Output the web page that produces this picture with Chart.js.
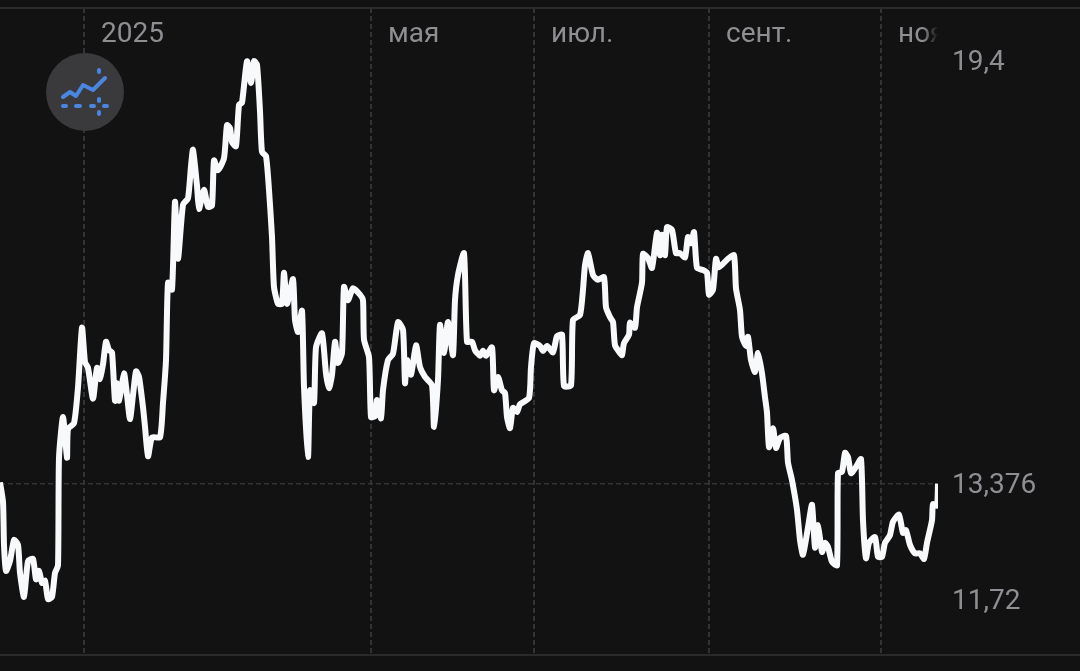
<!DOCTYPE html>
<html>
<head>
<meta charset="utf-8">
<title>Chart</title>
<script src="https://cdn.jsdelivr.net/npm/chart.js@4"></script>
<style>
  html, body { margin: 0; padding: 0; background: #121212; overflow: hidden; }
  canvas { position: absolute; left: 0; top: 0; }
  .rule { position: absolute; left: 0; width: 1080px; height: 2px; background: #2b2b2d; }
  #badge { position: absolute; left: 45px; top: 52px; }
</style>
</head>
<body>
<canvas id="chart" width="1080" height="671"></canvas>
<div class="rule" style="top:7px"></div>
<div class="rule" style="top:654px"></div>
<svg id="badge" width="80" height="80" viewBox="45 52 80 80">
  <circle cx="85" cy="92" r="39" fill="#3a3a3c"/>
  <g fill="none" stroke="#4a86e0" stroke-width="4" stroke-linecap="round" stroke-linejoin="round">
    <polyline points="63,97 70,92 76,96 83,85 93,90 105,78"/>
    <path d="M63 106h3M76 106h4M91 106h3M104 106h3M99 70v2M99 99v2M99 112v2"/>
  </g>
</svg>

<script>
// x is trading time counted from the start of 2025, y is the price
const sessions = [
  -42,-40.5,-40,-39,-37,-35,-33,-32,-30,-28,-25.5,-24,-22.5,-21,-19.5,-18,-16,-14.5,-13,-12.5,
  -10.5,-8.5,-8,-5,-3,-1,0.5,2,4.5,6.5,8,9.5,11,12.5,14,15.5,16.5,17.5,20,21.5,
  23,24.5,26,27.5,29.5,30.5,32,34,38,39.5,41,42,44,45.5,47,49.5,52,53.5,54.5,56.5,
  57.5,60,62,64,65,67,70,71.5,73,74,76,77.5,79,81.5,83.5,85,86.5,88,89,91,
  92.5,94,95,97,99,100,101.5,104.5,105.5,107,109,110,112,113,115,116,119,121,122.5,124,
  125.5,127,129,130,132,134.5,138,139.5,140,142.5,143.5,145.5,146.5,148.5,149.5,152,154.5,157,159.5,160.5,
  161.5,163.5,166,168,170.5,174,175,177,178,180,182,184.5,185.5,187,190,191.5,194,195.5,198,199.5,
  201,204,205,207,209,210.5,211.5,213,214.5,216.5,218,222.5,223.5,225,228,229.5,231.5,234.5,236.5,239,
  240,243.5,244.5,248,249.5,250.5,252,254.5,257,260,261,263,264.5,265.5,268,269,270,272.5,273,275.5,
  276.5,279,279.5,282,284,286.5,288,289,290.5,291.5,294,296,298,300.5,302,303.5,305,306.5,309.5,311.5,
  312.5,314.5,316,317.5,322,325,326,328,329,331,332,333.5,335.5,337,339,340.5,341.5,342.5,344.5,346,
  348,351,352,354,356.5,358,359.5,362,364,365.5,367,369,370.5,372,374,376.5,377,379,380.5,382,
  383.5,386,388.5,389.5,391,392.5,395.5,397,399,400.5,403,404.5,407.5,409.5,411,413,415.5,418,420,421.5,
  424,424.5,426.5,427
]
const prices = [
  13.40,13.12,12.51,12.14,12.28,12.58,12.51,12.11,11.77,12.28,12.31,12.02,12.14,11.97,12.00,11.74,11.77,12.11,12.22,13.75,
  14.33,13.75,14.16,14.24,14.75,15.60,15.11,15.03,14.59,15.03,14.87,15.08,15.40,15.28,15.25,14.56,14.81,14.56,14.95,14.64,
  14.30,14.64,14.98,14.90,14.47,14.19,13.77,14.04,14.04,14.53,15.14,16.24,16.14,17.39,16.58,17.35,17.44,17.90,18.13,17.62,
  17.29,17.56,17.32,17.34,17.98,17.84,18.01,18.48,18.44,18.24,18.18,18.77,18.80,19.39,19.08,19.39,19.34,18.68,18.10,18.04,
  17.56,16.89,16.18,15.94,15.94,16.38,15.94,16.29,15.71,15.54,15.84,14.76,13.76,14.71,14.53,15.32,15.52,14.95,14.74,14.93,
  15.40,15.10,15.24,16.18,15.99,16.16,16.07,15.99,15.43,15.18,14.33,14.34,14.57,14.31,14.71,15.14,15.23,15.68,15.57,14.81,
  15.14,14.93,15.35,15.04,14.90,14.78,14.19,14.86,15.64,15.24,15.68,15.21,15.99,16.35,16.66,15.40,15.40,15.28,15.20,15.27,
  15.20,15.32,14.71,14.90,14.71,14.67,14.33,14.17,14.46,14.40,14.51,14.60,15.04,15.38,15.34,15.27,15.34,15.25,15.48,15.50,
  14.77,14.78,15.71,15.78,16.14,16.49,16.66,16.35,16.28,16.32,15.89,15.75,15.68,15.35,15.24,15.21,15.38,15.50,15.67,15.60,
  15.89,16.24,16.65,16.59,16.45,16.95,16.63,16.92,16.63,17.03,16.99,16.66,16.66,16.60,16.89,16.80,16.96,16.45,16.42,16.38,
  16.07,16.14,16.58,16.46,16.58,16.63,16.16,15.85,15.47,15.34,15.47,15.14,14.97,15.24,14.95,14.61,14.39,13.90,14.17,13.89,
  14.03,14.06,13.68,13.43,13.01,12.58,12.37,12.76,13.08,12.47,12.79,12.41,12.54,12.48,12.27,12.22,13.53,13.55,13.82,13.76,
  13.53,13.62,13.73,12.86,12.32,12.54,12.62,12.34,12.34,12.54,12.65,12.84,12.94,12.68,12.72,12.51,12.39,12.39,12.31,12.54,
  12.86,13.09,13.07,13.38
]

const xTickValues = [0, 143.5, 225, 312.5, 398.5]
const xTickLabels = ["2025", "мая", "июл.", "сент.", "ноя"]
const yTickValues = [19.4, 13.376, 11.72]
const yTickLabels = ["19,4", "13,376", "11,72"]
const lastPrice = 13.376

const gridColor = "#333335"
const labelColor = "#8e8e93"

const points = []
for (let i = 0; i < sessions.length; i++) {
  points[i] = {x: sessions[i], y: prices[i]}
}

// the last month label fades out where the plot ends
// the gradient is relative to the label's own start, chart.js translates before drawing
function xLabelColor(ctx) {
  if (ctx.index !== xTickValues.length - 1) return labelColor
  const fade = ctx.chart.ctx.createLinearGradient(25, 0, 40, 0)
  fade.addColorStop(0, labelColor)
  fade.addColorStop(1, "rgba(142,142,147,0)")
  return fade
}

new Chart(document.getElementById("chart"), {
  type: "line",
  data: {
    datasets: [{
      data: points,
      borderColor: "#f8f9fb",
      borderWidth: 6,
      borderJoinStyle: "round",
      borderCapStyle: "butt",
      pointRadius: 0,
      tension: 0.2,
      clip: 0
    }]
  },
  options: {
    responsive: false,
    animation: false,
    layout: {autoPadding: false, padding: {top: 8, bottom: 16}},
    plugins: {legend: {display: false}, tooltip: {enabled: false}},
    scales: {
      x: {
        type: "linear",
        min: -42,
        max: 427,
        position: {y: 20},
        afterBuildTicks: function (scale) {
          scale.ticks = xTickValues.map(v => ({value: v}))
        },
        border: {display: false, dash: [5, 3]},
        grid: {color: gridColor, lineWidth: 2, drawTicks: false},
        ticks: {
          autoSkip: false,
          maxRotation: 0,
          align: "start",
          labelOffset: 17,
          padding: 0,
          color: xLabelColor,
          font: {family: "Roboto", size: 28},
          callback: function (value, i) { return xTickLabels[i] }
        }
      },
      y: {
        type: "linear",
        position: "right",
        min: 10.944,
        max: 20.147,
        // keep the tick labels from shrinking the plot
        afterFit: function (scale) {
          scale.width = 142
          scale.paddingTop = 0
          scale.paddingBottom = 0
        },
        afterBuildTicks: function (scale) {
          scale.ticks = yTickValues.map(v => ({value: v}))
        },
        border: {display: false, dash: [5, 3]},
        grid: {
          color: ctx => ctx.tick && ctx.tick.value === lastPrice ? gridColor : "transparent",
          lineWidth: 1.5,
          drawTicks: false
        },
        ticks: {
          padding: 14,
          labelOffset: 2,
          color: labelColor,
          font: {family: "Roboto", size: 28},
          callback: function (value, i) { return yTickLabels[i] }
        }
      }
    }
  }
})
</script>
</body>
</html>
